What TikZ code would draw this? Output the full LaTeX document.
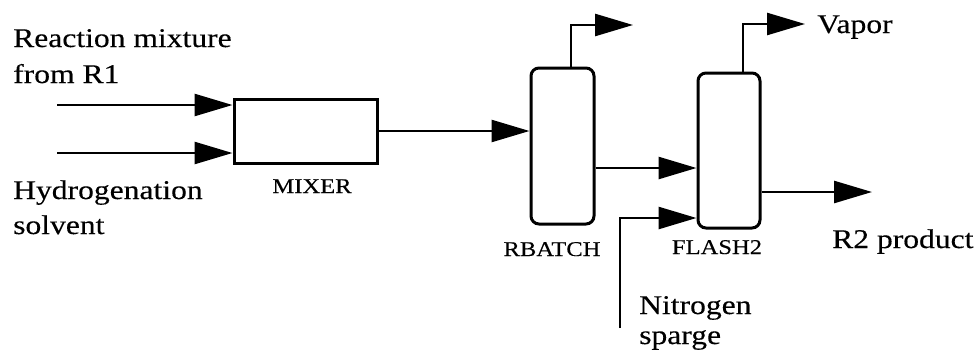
\documentclass[tikz,border=0pt]{standalone}
\usepackage{fontspec}
\setmainfont[FakeStretch=1.17,FakeBold=0.3]{Liberation Serif}
\usetikzlibrary{arrows.meta,calc}
\begin{document}
\begin{tikzpicture}[x=1pt,y=-1pt,
  unitbox/.style={draw,line width=3pt,inner sep=0pt},
  flow/.style={line width=2.6pt,-{Triangle[length=38pt,width=22pt]}},
  bigtxt/.style={font=\fontsize{27}{32}\selectfont,inner sep=0pt,anchor=base west},
  lbltxt/.style={font=\fontsize{21}{25}\selectfont,inner sep=0pt,anchor=base}]
\useasboundingbox (0,0) rectangle (976,360);
% units
\node[unitbox,minimum width=143pt,minimum height=64pt] (mixer) at (305.5,131) {};
\node[unitbox,rounded corners=8pt,minimum width=63pt,minimum height=156pt] (rbatch) at (562.5,146) {};
\node[unitbox,rounded corners=8pt,minimum width=62pt,minimum height=155pt] (flash) at (729,150.5) {};
% labels
\node[lbltxt] (lmixer) at (312,193) {MIXER};
\node[lbltxt] (lrbatch) at (552,256) {RBATCH};
\node[lbltxt] (lflash) at (717,254) {FLASH2};
\node[bigtxt] (t1) at (13,47) {Reaction mixture};
\node[bigtxt] (t2) at (13,83) {from R1};
\node[bigtxt] (t3) at (13,199) {Hydrogenation};
\node[bigtxt] (t4) at (13,234) {solvent};
\node[bigtxt] (tv) at (817,33) {Vapor};
\node[bigtxt] (tr2) at (832,248) {R2 product};
\node[bigtxt] (tn1) at (639,314) {Nitrogen};
\node[bigtxt] (tn2) at (639,344) {sparge};
% free ends and tap points
\coordinate (in1) at (57,105);
\coordinate (in2) at (57,153);
\coordinate (v1) at (633,25);
\coordinate (v2) at (805,24);
\coordinate (prod) at (872,192);
\coordinate (n2) at (620,328);
\coordinate (rbtop) at ($(rbatch.north)+(8.5,0)$);
\coordinate (rbout) at ($(rbatch.east)+(0,22)$);
\coordinate (fltop) at ($(flash.north)+(14,0)$);
\coordinate (flin2) at ($(flash.west)+(0,67.5)$);
% streams
\draw[flow] (in1) -- (in1 -| mixer.west);
\draw[flow] (in2) -- (in2 -| mixer.west);
\draw[flow] (mixer.east) -- (mixer.east -| rbatch.west);
\draw[flow] (rbtop) |- (v1);
\draw[flow] (rbout) -- (rbout -| flash.west);
\draw[flow] (fltop) |- (v2);
\draw[flow] (prod -| flash.east) -- (prod);
\draw[flow] (n2) |- (flin2);
\end{tikzpicture}
\end{document}
